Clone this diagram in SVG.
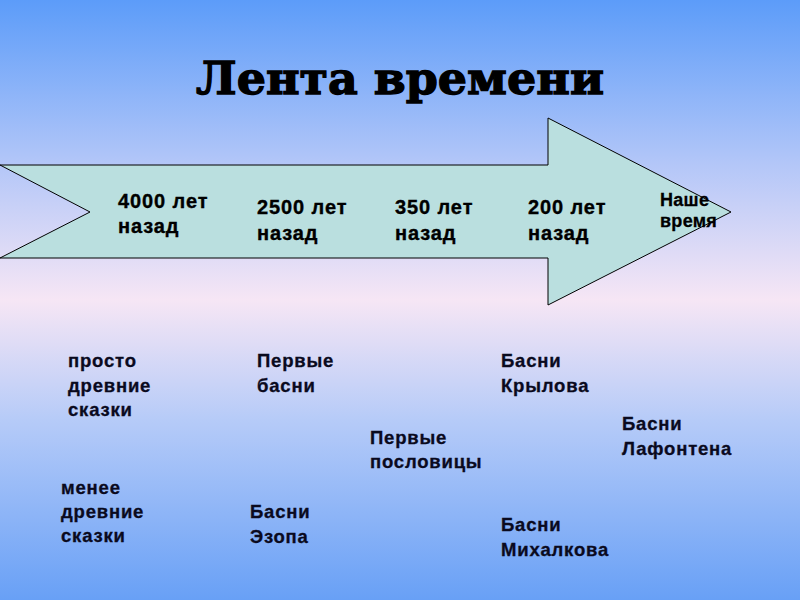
<svg xmlns="http://www.w3.org/2000/svg" width="800" height="600" viewBox="0 0 800 600">
  <defs>
    <linearGradient id="bg" x1="0" y1="0" x2="0" y2="1">
      <stop offset="0" stop-color="#5c9cf9"/>
      <stop offset="0.27" stop-color="#b2c6f8"/>
      <stop offset="0.5" stop-color="#f6e6f5"/>
      <stop offset="0.7" stop-color="#b6cbf8"/>
      <stop offset="1" stop-color="#68a0f6"/>
    </linearGradient>
  </defs>
  <style>
    .title { font-family: "DejaVu Serif", "Liberation Serif", serif; font-weight: bold; font-size: 44px; fill: #000; stroke: #000; stroke-width: 1.3px; }
    .lbl { font-family: "Liberation Sans", Arial, sans-serif; font-weight: bold; font-size: 20px; fill: #000; stroke: #000; stroke-width: 0.35px; letter-spacing: 0.9px; }
    .now { font-family: "Liberation Sans", Arial, sans-serif; font-weight: bold; font-size: 18px; fill: #000; stroke: #000; stroke-width: 0.3px; letter-spacing: 0.3px; }
    .ev { font-family: "Liberation Sans", Arial, sans-serif; font-weight: bold; font-size: 18.5px; fill: #0a0a1e; stroke: #0a0a1e; stroke-width: 0.3px; letter-spacing: 0.8px; }
  </style>
  <rect x="0" y="0" width="800" height="600" fill="url(#bg)"/>

  <text class="title" x="400" y="94" text-anchor="middle" textLength="408" lengthAdjust="spacingAndGlyphs">Лента времени</text>

  <g id="timeline-arrow">
    <polygon points="0,165 548,165 548,118 731,212 548,305 548,258 0,258 90,212" fill="#badfdf" stroke="#000" stroke-width="1"/>
  </g>

  <g id="connectors"></g>

  <g id="t4000"><text class="lbl" x="118" y="208">4000 лет</text><text class="lbl" x="118" y="233">назад</text></g>
  <g id="t2500"><text class="lbl" x="257" y="214">2500 лет</text><text class="lbl" x="257" y="240">назад</text></g>
  <g id="t350"><text class="lbl" x="395" y="214">350 лет</text><text class="lbl" x="395" y="240">назад</text></g>
  <g id="t200"><text class="lbl" x="528" y="214">200 лет</text><text class="lbl" x="528" y="240">назад</text></g>
  <g id="tnow"><text class="now" x="660" y="206">Наше</text><text class="now" x="660" y="227">время</text></g>

  <g id="e1"><text class="ev" x="68" y="367">просто</text><text class="ev" x="68" y="392">древние</text><text class="ev" x="68" y="416">сказки</text></g>
  <g id="e2"><text class="ev" x="61" y="494">менее</text><text class="ev" x="61" y="518">древние</text><text class="ev" x="61" y="542">сказки</text></g>
  <g id="e3"><text class="ev" x="257" y="367">Первые</text><text class="ev" x="257" y="392">басни</text></g>
  <g id="e4"><text class="ev" x="250" y="518">Басни</text><text class="ev" x="250" y="543">Эзопа</text></g>
  <g id="e5"><text class="ev" x="370" y="444">Первые</text><text class="ev" x="370" y="468">пословицы</text></g>
  <g id="e6"><text class="ev" x="501" y="367">Басни</text><text class="ev" x="501" y="392">Крылова</text></g>
  <g id="e7"><text class="ev" x="622" y="430">Басни</text><text class="ev" x="622" y="455">Лафонтена</text></g>
  <g id="e8"><text class="ev" x="501" y="531">Басни</text><text class="ev" x="501" y="556">Михалкова</text></g>
</svg>
